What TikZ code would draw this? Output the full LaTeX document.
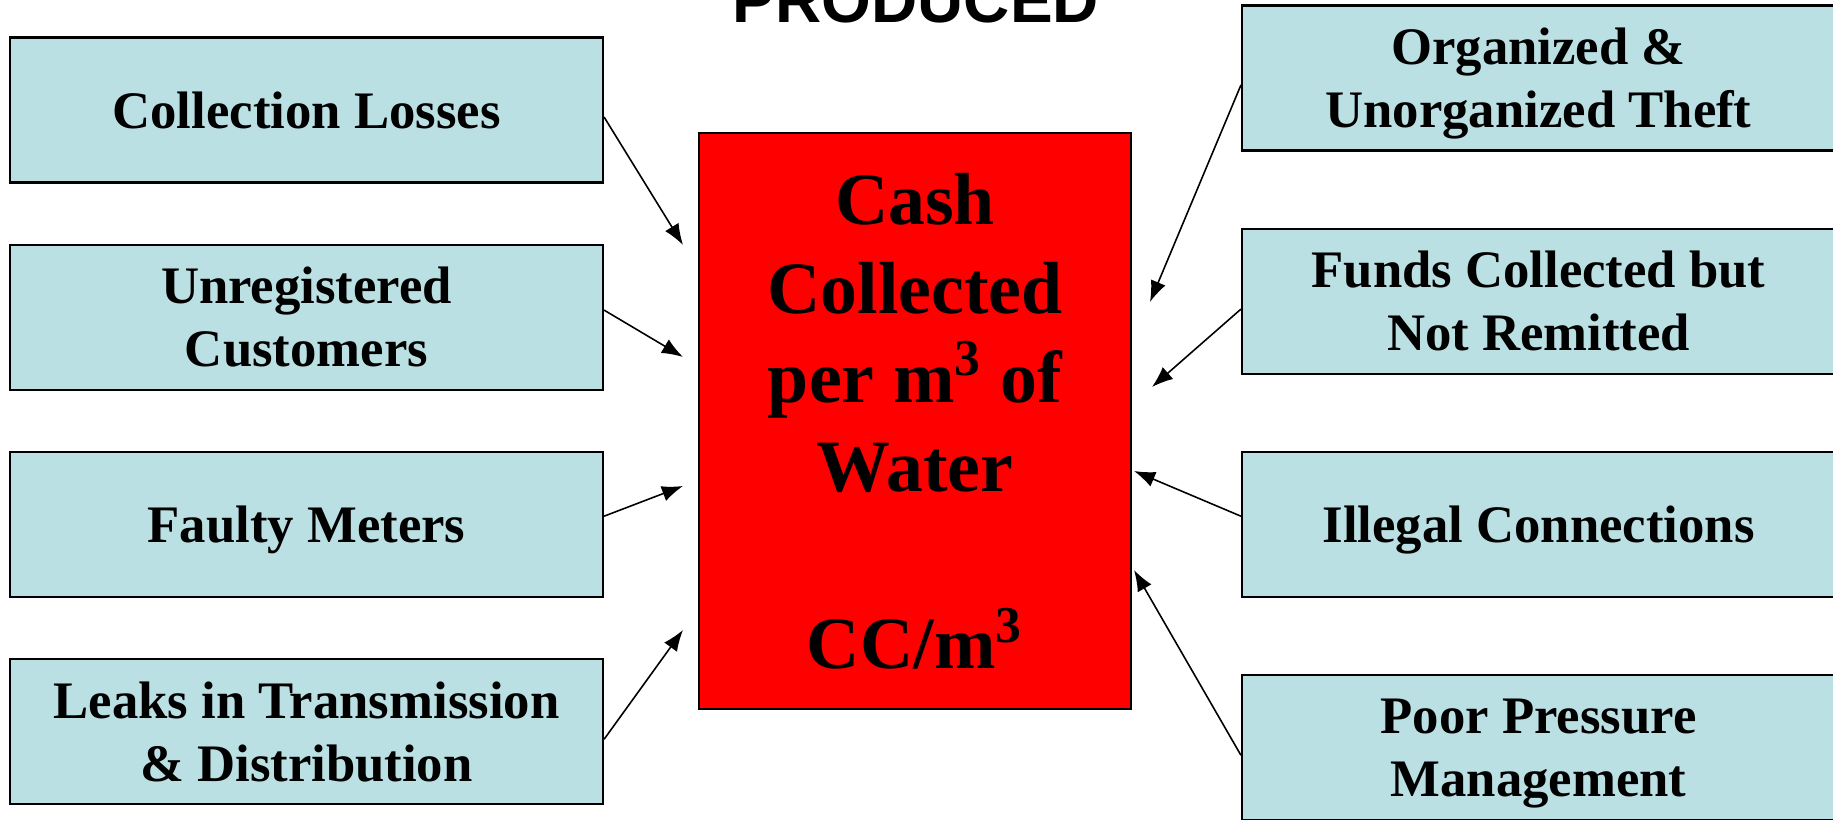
\documentclass[tikz,border=0pt]{standalone}
\usepackage{fontspec}
\setmainfont{Liberation Serif}
\newfontfamily\headfont{Liberation Sans}
\usetikzlibrary{arrows.meta,positioning}
\definecolor{causeblue}{RGB}{187,224,227}
\definecolor{cashred}{RGB}{255,0,0}

\begin{document}
\begin{tikzpicture}[
    cause/.style={draw, line width=0.6pt, fill=causeblue, minimum width=5.93cm, minimum height=1.45cm,
        inner sep=0pt, align=center, text depth=0pt, font=\fontsize{15}{17.9}\selectfont\bfseries},
    feed/.style={-{Latex[length=6pt,width=4.5pt]}, line width=0.45pt}
]
\useasboundingbox (0,0) rectangle (18.33,8.2);

% Heading, cut by the top edge
\node[anchor=base, font=\headfont\bfseries\fontsize{18.2}{20}\selectfont] (head) at (9.16,7.97) {PRODUCED};

% Central box
\node[draw, line width=0.6pt, fill=cashred, minimum width=4.32cm, minimum height=5.76cm, align=center,
    text depth=0pt, font=\fontsize{21}{25.3}\selectfont\bfseries] (cash) at (9.15,3.99)
    {Cash\\Collected\\per m\textsuperscript{3} of\\Water\\~\\CC/m\textsuperscript{3}};

% Causes on the left
\node[cause] (losses) at (3.065,7.10) {Collection Losses};
\node[cause, below=0.6cm of losses] (unreg) {Unregistered\\Customers};
\node[cause, below=0.6cm of unreg] (meters) {Faulty Meters};
\node[cause, below=0.6cm of meters] (leaks) {Leaks in Transmission\\\& Distribution};

% Causes on the right
\node[cause] (theft) at (15.385,7.42) {Organized \&\\Unorganized Theft};
\node[cause, below=0.76cm of theft] (funds) {Funds Collected but\\Not Remitted};
\node[cause, below=0.76cm of funds] (illegal) {Illegal Connections};
\node[cause, below=0.76cm of illegal] (pressure) {Poor Pressure\\Management};

% Arrow tips next to the central box
\coordinate (lossesend) at (6.83,5.75);
\coordinate (unregend) at (6.83,4.63);
\coordinate (metersend) at (6.83,3.34);
\coordinate (leaksend) at (6.83,1.90);
\coordinate (theftend) at (11.50,5.18);
\coordinate (fundsend) at (11.52,4.33);
\coordinate (illegalend) at (11.34,3.49);
\coordinate (pressureend) at (11.34,2.50);

% Connections
\draw[feed] ([yshift=-0.07cm]losses.east) -- (lossesend);
\draw[feed] ([yshift=0.07cm]unreg.east) -- (unregend);
\draw[feed] ([yshift=0.08cm]meters.east) -- (metersend);
\draw[feed] ([yshift=-0.08cm]leaks.east) -- (leaksend);
\draw[feed] ([yshift=-0.07cm]theft.west) -- (theftend);
\draw[feed] ([yshift=-0.08cm]funds.west) -- (fundsend);
\draw[feed] ([yshift=0.08cm]illegal.west) -- (illegalend);
\draw[feed] ([yshift=-0.08cm]pressure.west) -- (pressureend);
\end{tikzpicture}
\end{document}
